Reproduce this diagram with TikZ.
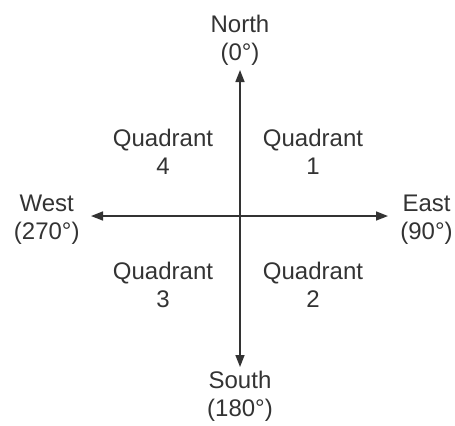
\documentclass[tikz,border=0pt]{standalone}
\usepackage{fontspec}
\setmainfont{Liberation Sans}
\usetikzlibrary{arrows.meta,positioning}
\tikzset{
    compass/.style={draw=black!80, line width=0.8pt, {Triangle[length=6pt,width=4.5pt]}-{Triangle[length=6pt,width=4.5pt]}},
    dirlabel/.style={align=center, inner sep=0pt, text=black!80, font=\fontsize{12}{14}\selectfont},
    quadlabel/.style={align=center, inner sep=0pt, text=black!80, font=\fontsize{12}{14}\selectfont}
}
\begin{document}
\begin{tikzpicture}[x=0.5pt,y=0.5pt]
            \useasboundingbox (0,0) rectangle (455,425);
            \coordinate (Center) at (240,209);
            \coordinate (NorthTip) at (240,355);
            \coordinate (SouthTip) at (240,58);
            \coordinate (WestTip) at (91,209);
            \coordinate (EastTip) at (388,209);

            \draw[compass] (NorthTip)--(SouthTip);
            \draw[compass] (WestTip)--(EastTip);

            \node[dirlabel, above=2pt of NorthTip] (North) {North\\(0°)};
            \node[dirlabel, below=2pt of SouthTip] (South) {South\\(180°)};
            \node[dirlabel, left=5.5pt of WestTip, yshift=-2pt] (West) {West\\(270°)};
            \node[dirlabel, right=6pt of EastTip, yshift=-2pt] (East) {East\\(90°)};

            \node[quadlabel] (QuadOne) at ([shift={(73,64)}]Center) {Quadrant\\1};
            \node[quadlabel] (QuadFour) at ([shift={(-77,64)}]Center) {Quadrant\\4};
            \node[quadlabel] (QuadThree) at ([shift={(-77,-69)}]Center) {Quadrant\\3};
            \node[quadlabel] (QuadTwo) at ([shift={(73,-69)}]Center) {Quadrant\\2};
        \end{tikzpicture}
\end{document}
